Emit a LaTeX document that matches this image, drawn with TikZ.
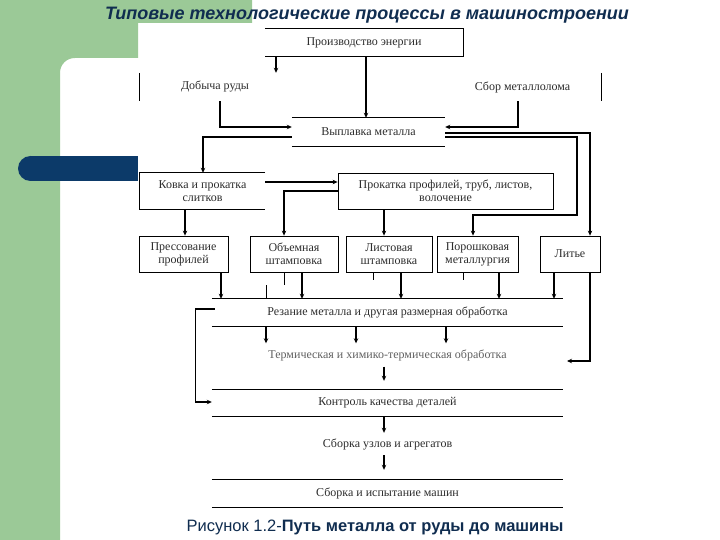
\documentclass[tikz,border=0pt]{standalone}
\usepackage{fontspec}
\setmainfont{Liberation Serif}
\newfontfamily\sansf{Liberation Sans}
\usetikzlibrary{arrows.meta}
\definecolor{slgreen}{RGB}{155,201,151}
\definecolor{slnavy}{RGB}{12,58,105}
\definecolor{titlenavy}{RGB}{16,45,80}
\definecolor{inkgray}{RGB}{45,45,45}
\begin{document}
\begin{tikzpicture}[x=1pt,y=-1pt,
  lbl/.style={font=\fontsize{12}{13}\selectfont, text=inkgray, align=center, inner sep=0pt},
  bx/.style={lbl, draw=black, line width=0.8pt},
  edge/.style={line width=0.8pt},
  arr/.style={-{Stealth[length=5pt,width=4.5pt]}, line width=1.1pt},
  faint/.style={line width=0.5pt}
]
\useasboundingbox (0,0) rectangle (720,540);
% background
\fill[white] (0,0) rectangle (720,540);
\fill[slgreen] (0,0) -- (252,0) -- (252,23) -- (138,23) -- (138,58) -- (75,58)
  .. controls (66.7,58) and (60,64.3) .. (60,73) -- (60,540) -- (0,540) -- cycle;
\fill[slnavy] (30.5,156) rectangle (138,181);
\fill[slnavy] (30.5,168.5) circle (12.5);
% title and caption
\node[font=\sansf\bfseries\itshape\fontsize{18}{20}\selectfont, text=titlenavy, inner sep=0pt] (title) at (367,15) {Типовые технологические процессы в машиностроении};
\node[font=\sansf\fontsize{16.5}{18}\selectfont, text=titlenavy, inner sep=0pt] (cap) at (375,527) {Рисунок 1.2-\textbf{Путь металла от руды до машины}};
% nodes
\node[lbl, minimum width=198pt, minimum height=27pt] (E) at (364,42.5) {Производство энергии};
\node[lbl, minimum width=150pt, minimum height=28pt] (D) at (215,87) {Добыча руды};
\node[lbl, minimum width=157pt, minimum height=28pt] (S) at (522.5,87) {Сбор металлолома};
\node[lbl, minimum width=153pt, minimum height=28pt] (V) at (368.5,132) {Выплавка металла};
\node[lbl, minimum width=125pt, minimum height=36pt] (K) at (202.5,191) {Ковка и прокатка\\слитков};
\node[bx, minimum width=215pt, minimum height=36pt] (P) at (445.5,191) {Прокатка профилей, труб, листов,\\волочение};
\node[bx, minimum width=89pt, minimum height=36pt] (B1) at (183.5,254) {Прессование\\профилей};
\node[bx, minimum width=88pt, minimum height=36pt] (B2) at (294,254) {Объемная\\штамповка};
\node[bx, minimum width=86pt, minimum height=36pt] (B3) at (389,254) {Листовая\\штамповка};
\node[bx, minimum width=81pt, minimum height=36pt] (B4) at (477.5,254) {Порошковая\\металлургия};
\node[bx, minimum width=60pt, minimum height=36pt] (B5) at (570,254) {Литье};
\node[lbl, minimum width=351pt, minimum height=27pt] (R) at (387.5,312.5) {Резание металла и другая размерная обработка};
\node[lbl, text=inkgray!75, minimum width=351pt, minimum height=23pt] (T) at (387.5,355) {Термическая и химико-термическая обработка};
\node[lbl, minimum width=351pt, minimum height=26pt] (C) at (387.5,403) {Контроль качества деталей};
\node[lbl, minimum width=351pt, minimum height=22pt] (A) at (387.5,444) {Сборка узлов и агрегатов};
\node[lbl, minimum width=351pt, minimum height=27pt] (M) at (387.5,493.5) {Сборка и испытание машин};
\coordinate (tin) at (567,361);
% partial box outlines
\draw[edge] (E.north west) -- (E.north east) -- (E.south east) -- (E.south west);
\draw[edge] (D.north west) -- (D.south west);
\draw[edge] (S.north east) -- (S.south east);
\draw[edge] (V.north west) -- (V.north east) (V.south west) -- (V.south east);
\draw[edge] (K.north east) -- (K.north west) -- (K.south west) -- (K.south east);
\draw[edge] (R.north west) -- (R.north east) (R.south west) -- (R.south east);
\draw[edge] (C.north west) -- (C.north east) (C.south west) -- (C.south east);
\draw[edge] (M.north west) -- (M.north east) (M.south west) -- (M.south east);
% connectors
\draw[arr] (E.south -| 276,0) -- (D.north -| 276,0);
\draw[arr] (E.south -| 366,0) -- (V.north -| 366,0);
\draw[arr] (D.south -| 220,0) |- (V.north west |- 0,127);
\draw[arr] (S.south -| 518,0) |- (V.north east |- 0,127);
\draw[arr] (V.north west |- 0,137) -| (K.north -| 203,0);
\draw[arr] (V.north east |- 0,133) -| (B5.north -| 590,0);
\draw[arr] (V.north east |- 0,137) -- (577,137) |- (473,215) -- (B4.north -| 473,0);
\draw[arr] (K.north east |- 0,182) -- (P.north west |- 0,182);
\draw[arr] (P.north west |- 0,191) -| (B2.north -| 284,0);
\draw[arr] (K.south -| 185,0) -- (B1.north -| 185,0);
\draw[arr] (P.south -| 384,0) -- (B3.north -| 384,0);
\draw[arr] (B1.south -| 221,0) -- (R.north -| 221,0);
\draw[arr] (B2.south -| 302,0) -- (R.north -| 302,0);
\draw[arr] (B3.south -| 401,0) -- (R.north -| 401,0);
\draw[arr] (B4.south -| 499,0) -- (R.north -| 499,0);
\draw[arr] (B5.south -| 554,0) -- (R.north -| 554,0);
\draw[arr] (B5.south -| 590,0) |- (tin);
\draw[arr] (R.south -| 266,0) -- (T.north -| 266,0);
\draw[arr] (R.south -| 356,0) -- (T.north -| 356,0);
\draw[arr] (R.south -| 446,0) -- (T.north -| 446,0);
\draw[arr] ([xshift=3pt]R.west |- 0,309) -- ++(-19,0) |- (C.west |- 0,402);
\draw[arr, shorten >=9pt] (T.south -| 384,0) -- (C.north -| 384,0);
\draw[arr] (C.south -| 384,0) -- (A.north -| 384,0);
\draw[arr, shorten >=10pt] (A.south -| 384,0) -- (M.north -| 384,0);
% faint traces below the lower boxes
\draw[faint] (B2.south -| 284,0) -- ++(0,13) (266,285) -- (R.north -| 266,0);
\draw[faint] (B3.south -| 373,0) -- ++(0,8);
\draw[faint] (B4.south -| 463,0) -- ++(0,8);
\end{tikzpicture}
\end{document}
